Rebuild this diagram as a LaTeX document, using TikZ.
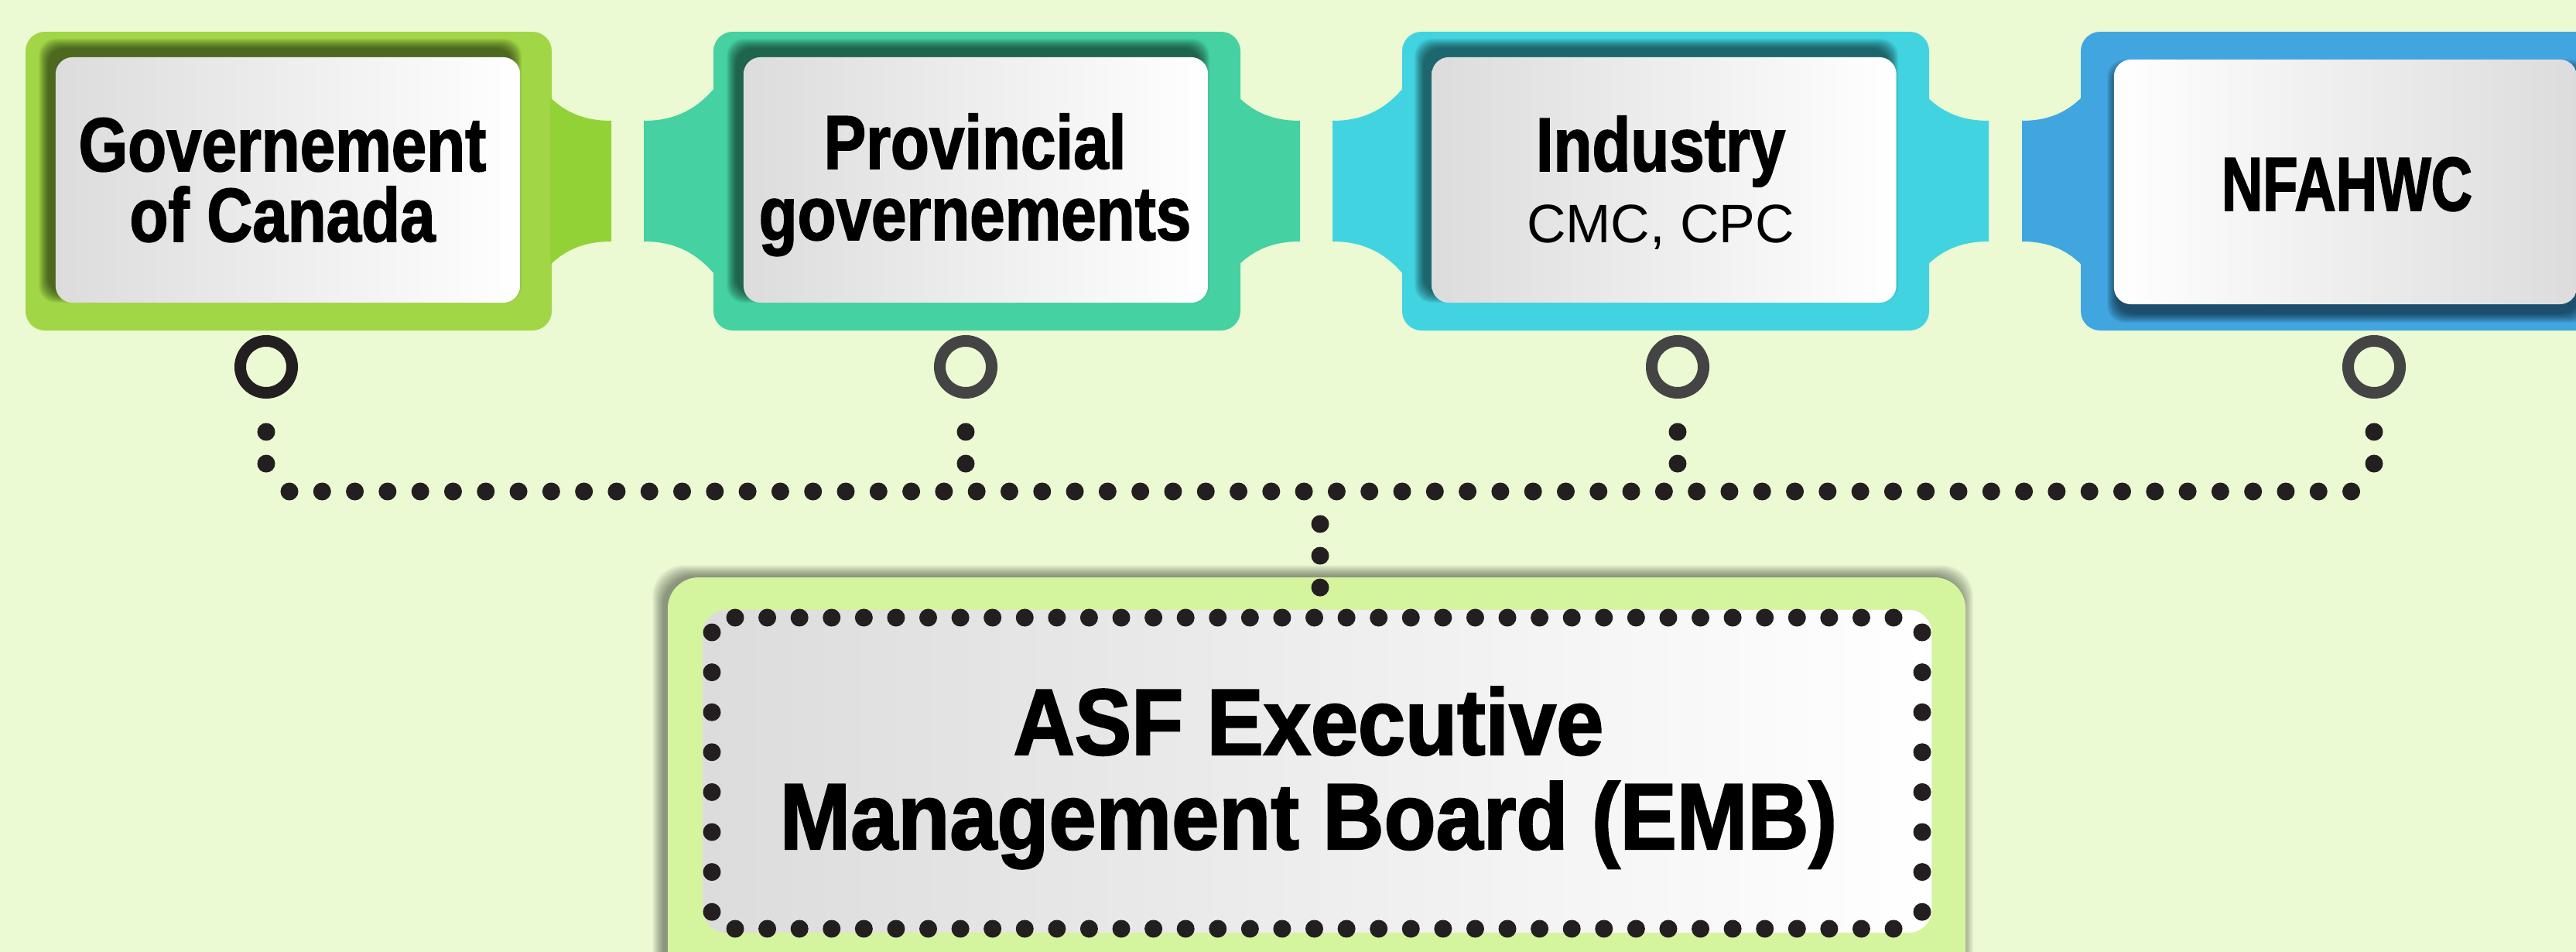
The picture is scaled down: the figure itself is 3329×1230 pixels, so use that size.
\documentclass[tikz,border=0pt]{standalone}
\usepackage{fontspec}
\newfontfamily\fA[FakeStretch=0.83,BoldFeatures={FakeBold=1.6}]{Liberation Sans}
\newfontfamily\fN[FakeStretch=0.75,BoldFeatures={FakeBold=1.6}]{Liberation Sans}
\newfontfamily\fE[FakeStretch=0.905,BoldFeatures={FakeBold=1.8}]{Liberation Sans}
\newfontfamily\fR{Liberation Sans}
\definecolor{bgc}{HTML}{ECFAD4}
\definecolor{cgreen}{HTML}{A1D646}
\definecolor{cgreentab}{HTML}{93D236}
\definecolor{cteal}{HTML}{45D1A1}
\definecolor{ccyan}{HTML}{42D3E0}
\definecolor{cblue}{HTML}{41A6DF}
\definecolor{cemb}{HTML}{D4F59D}
\definecolor{gL}{HTML}{DCDCDC}
\definecolor{dotc}{HTML}{231F20}
\definecolor{ringc}{HTML}{444444}
% right tab: x1, dx, y at box edge, colour
\newcommand\rtab[4]{\fill[#4] ({#1-2},#3) .. controls ({#1+0.26*#2},{#3+0.7*(156-#3)}) and ({#1+0.58*#2},156) .. ({#1+#2},156) -- ({#1+#2},312) .. controls ({#1+0.58*#2},312) and ({#1+0.26*#2},{468-#3-0.7*(156-#3)}) .. ({#1-2},{468-#3}) -- cycle;}
% left tab: x0, dx, y at box edge, colour
\newcommand\ltab[4]{\fill[#4] ({#1+2},#3) .. controls ({#1-0.26*#2},{#3+0.7*(156-#3)}) and ({#1-0.58*#2},156) .. ({#1-#2},156) -- ({#1-#2},312) .. controls ({#1-0.58*#2},312) and ({#1-0.26*#2},{468-#3-0.7*(156-#3)}) .. ({#1+2},{468-#3}) -- cycle;}
% soft shadow: x1 y1 x2 y2 dx dy radius
\newcommand\softshadow[7]{\foreach \k in {0,...,12}{\fill[black,opacity=0.05,rounded corners=#7] ({#1+#5-\k},{#2+#6-\k}) rectangle ({#3+#5+\k},{#4+#6+\k});}}
\begin{document}
\begin{tikzpicture}[x=0.01cm,y=-0.01cm,
  ibox/.style={rectangle,rounded corners=0.22cm,minimum width=6cm,minimum height=3.17cm,inner sep=0pt,draw=none},
  ring/.style={circle,minimum size=0.67cm,inner sep=0pt,line width=0.15cm,draw=ringc},
  dotl/.style={draw=dotc,line width=0.23cm,line cap=round,dash pattern=on 0pt off 0.41cm},
  tb/.style={anchor=base,inner sep=0pt,text=black,font=\fA\bfseries\fontsize{28}{30}\selectfont},
  tr/.style={anchor=base,inner sep=0pt,text=black,font=\fR\fontsize{19.9}{22}\selectfont},
  te/.style={anchor=base,inner sep=0pt,text=black,font=\fE\bfseries\fontsize{34.5}{36}\selectfont}]
\useasboundingbox (0,0) rectangle (3329,1230);
\fill[bgc] (0,0) rectangle (3329,1230);
\clip (0,0) rectangle (3329,1230);

% outer coloured boxes with tabs
\fill[cgreen,rounded corners=0.25cm] (33,41) rectangle (713,427);
\rtab{713}{77}{126}{cgreentab}
\fill[cteal,rounded corners=0.25cm] (922,41) rectangle (1603,427);
\ltab{922}{90}{113}{cteal}
\rtab{1603}{77}{126}{cteal}
\fill[ccyan,rounded corners=0.25cm] (1812,41) rectangle (2493,427);
\ltab{1812}{90}{113}{ccyan}
\rtab{2493}{77}{126}{ccyan}
\fill[cblue,rounded corners=0.25cm] (2689,41) rectangle (3369,427);
\ltab{2689}{76}{125}{cblue}

% shadows of inner boxes
\softshadow{72}{74}{672}{391}{-10}{-12}{0.22cm}
\softshadow{961}{74}{1561}{391}{-10}{-12}{0.22cm}
\softshadow{1850}{74}{2451}{391}{-10}{-12}{0.22cm}
\softshadow{2732}{77}{3330}{393}{3}{12}{0.22cm}

% inner boxes
\node[ibox,left color=gL,right color=white] (gov) at (372,232.5) {};
\node[ibox,left color=gL,right color=white] (prov) at (1261,232.5) {};
\node[ibox,left color=gL,right color=white] (ind) at (2150.5,232.5) {};
\node[ibox,left color=white,right color=gL,minimum width=5.98cm,minimum height=3.16cm] (nfa) at (3031,235) {};

% texts
\node[tb] (g1) at (365,221) {Governement};
\node[tb] (g2) at (365,312) {of Canada};
\node[tb] (p1) at (1260,218) {Provincial};
\node[tb] (p2) at (1260,310) {governements};
\node[tb] (i1) at (2146,221) {Industry};
\node[tr] (i2) at (2146,313) {CMC, CPC};
\node[tb,font=\fN\bfseries\fontsize{28}{30}\selectfont] (n1) at (3033,272) {NFAHWC};

% rings
\node[ring,draw=dotc] (r1) at (344,474) {};
\node[ring] (r2) at (1248,474) {};
\node[ring] (r3) at (2168,474) {};
\node[ring] (r4) at (3068,474) {};

% dotted connectors
\coordinate (busL) at (374,635);
\coordinate (busR) at (3045,635);
\coordinate (busC) at (1706,635);
\draw[dotl,dash pattern=on 0pt off 0.4227cm] (busL) -- (busR);
\foreach \r in {r1,r2,r3,r4}{\draw[dotl] (\r.center) ++(0,84) -- ++(0,47);}

% bottom box
\foreach \k in {0,...,14}{\fill[black,opacity=0.03,rounded corners=0.4cm] ({857-\k},{744-\k}) rectangle ({2536+\k},1300);}
\fill[cemb,rounded corners=0.4cm] (863,746) rectangle (2540,1300);
\node[rectangle,rounded corners=0.3cm,minimum width=15.87cm,minimum height=4.17cm,inner sep=0pt,left color=gL,right color=white] (emb) at (1702.5,996.5) {};
\draw[dotl] (busC) ++(0,42) -- ++(0,88);
% dotted border
\draw[dotl,dash pattern=on 0pt off 0.4156cm] (950,798) -- (2452,798);
\draw[dotl,dash pattern=on 0pt off 0.4156cm] (950,1200) -- (2452,1200);
\draw[dotl,dash pattern=on 0pt off 0.5157cm] (920,817) -- (920,1184);
\draw[dotl,dash pattern=on 0pt off 0.5157cm] (2484,817) -- (2484,1184);
\node[te] (e1) at (1691,975) {ASF Executive};
\node[te] (e2) at (1691,1097) {Management Board (EMB)};
\end{tikzpicture}
\end{document}
